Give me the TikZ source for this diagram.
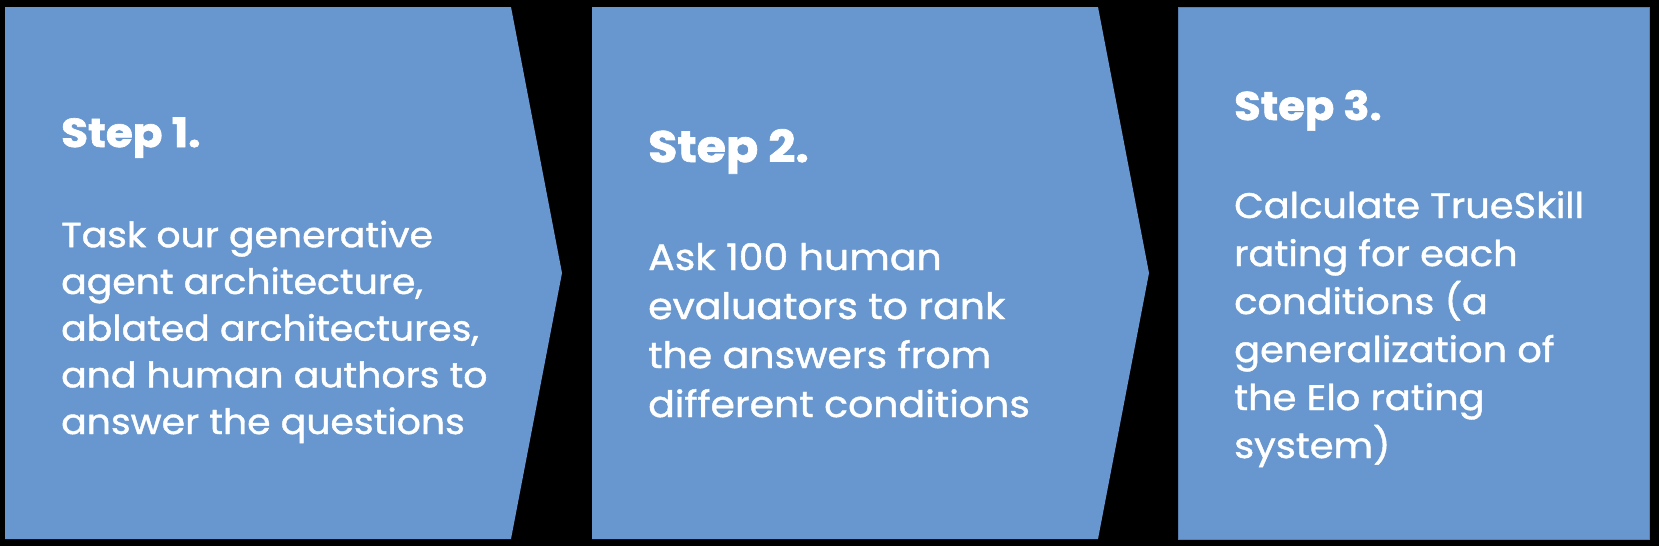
\documentclass[tikz,border=0pt]{standalone}
\usepackage{fontspec}
\setmainfont{Poppins}[FakeStretch=1.08, UprightFeatures={FakeBold=1.2}, BoldFeatures={FakeBold=1.6}]
\definecolor{stepblue}{RGB}{104,151,207}

\begin{document}
\begin{tikzpicture}[x=1pt, y=-1pt,
	headtext/.style={anchor=base west, inner sep=0pt, text=white, font=\bfseries\fontsize{#1}{#1}\selectfont},
	bodytext/.style={anchor=base west, inner sep=0pt, text=white, align=left}]
			%%%%% START %%%%%
			
			\fill[black] (0, 0) rectangle (1659, 546);
			\useasboundingbox (0, 0) rectangle (1659, 546);
			
			\fill[stepblue] (5, 7) -- (511, 7) -- (562, 273) -- (511, 539) -- (5, 539) -- cycle;
			\fill[stepblue] (592, 7) -- (1098, 7) -- (1149, 273) -- (1098, 539) -- (592, 539) -- cycle;
			\draw[fill=stepblue, draw=stepblue!85!black, line width=1pt] (1178, 7) rectangle (1649, 539);
			
			% base of a text block = baseline of its last line
			\node[headtext=40.5] (head1) at (61, 147) {Step 1.};
			\node[bodytext, font=\fontsize{35}{46.7}\selectfont] (body1) at (61, 434)
				{Task our generative\\agent architecture,\\ablated architectures,\\and human authors to\\answer the questions};
			
			\node[headtext=44] (head2) at (648, 162) {Step 2.};
			\node[bodytext, font=\fontsize{36.5}{49}\selectfont] (body2) at (648, 417)
				{Ask 100 human\\evaluators to rank\\the answers from\\different conditions};
			
			\node[headtext=40] (head3) at (1234, 120) {Step 3.};
			\node[bodytext, font=\fontsize{35.5}{48}\selectfont] (body3) at (1234, 458)
				{Calculate TrueSkill\\rating for each\\conditions (a\\generalization of\\the Elo rating\\system)};
			
			%%%%% END %%%%%
\end{tikzpicture}
\end{document}
